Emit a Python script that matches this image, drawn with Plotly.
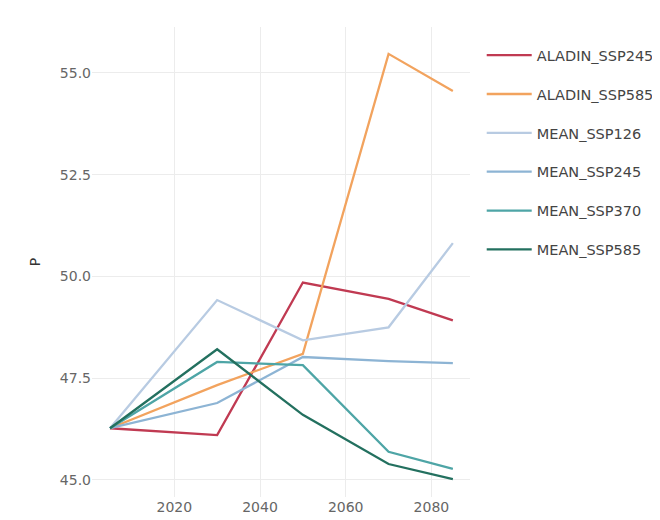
import plotly.graph_objects as go

years = [2005, 2030, 2050, 2070, 2085]

series_names = ["ALADIN_SSP245", "ALADIN_SSP585", "MEAN_SSP126", "MEAN_SSP245", "MEAN_SSP370", "MEAN_SSP585"]

aladin_ssp245 = [46.27, 46.10, 49.85, 49.45, 48.92]
aladin_ssp585 = [46.27, 47.33, 48.10, 55.47, 54.56]
mean_ssp126 = [46.27, 49.42, 48.43, 48.75, 50.82]
mean_ssp245 = [46.27, 46.89, 48.02, 47.92, 47.87]
mean_ssp370 = [46.27, 47.90, 47.82, 45.69, 45.27]
mean_ssp585 = [46.27, 48.21, 46.60, 45.39, 45.02]

colors = ["#c03a52", "#f2a35e", "#b8cbe2", "#8db4d4", "#4ea5a6", "#23705f"]

all_values = [aladin_ssp245, aladin_ssp585, mean_ssp126, mean_ssp245, mean_ssp370, mean_ssp585]

fig = go.Figure()
for name, vals, col in zip(series_names, all_values, colors):
    fig.add_trace(go.Scatter(
        x=years, y=vals, name=name, mode="lines",
        line=dict(color=col, width=2.3),
        legendgroup=name,
    ))

fig.update_layout(
    width=652, height=512,
    template="plotly_white",
    paper_bgcolor="white",
    plot_bgcolor="white",
    margin=dict(l=84, r=190, t=19, b=23, autoexpand=False),
    font=dict(family="DejaVu Sans, sans-serif", size=13, color="#5f5f5f"),
    xaxis=dict(
        range=[2000.8, 2089], tickvals=[2020, 2040, 2060, 2080],
        showgrid=True, gridcolor="#ececec", zeroline=False, showline=False,
        ticks="", tickfont=dict(size=14, color="#666"), automargin=False,
    ),
    yaxis=dict(
        range=[44.58, 56.13], tickvals=[45.0, 47.5, 50.0, 52.5, 55.0],
        tickformat=".1f",
        showgrid=True, gridcolor="#ececec", zeroline=False, showline=False,
        ticks="", tickfont=dict(size=14, color="#666"), automargin=False,
        title=dict(text="P", font=dict(size=14, color="#333"), standoff=15),
    ),
    legend=dict(
        x=1.031, xanchor="left", y=0.974, yanchor="top",
        traceorder="grouped", tracegroupgap=17,
        itemwidth=45,
        font=dict(size=14.5, color="#444"),
        bgcolor="rgba(0,0,0,0)",
    ),
)

fig.write_html("out.html")
